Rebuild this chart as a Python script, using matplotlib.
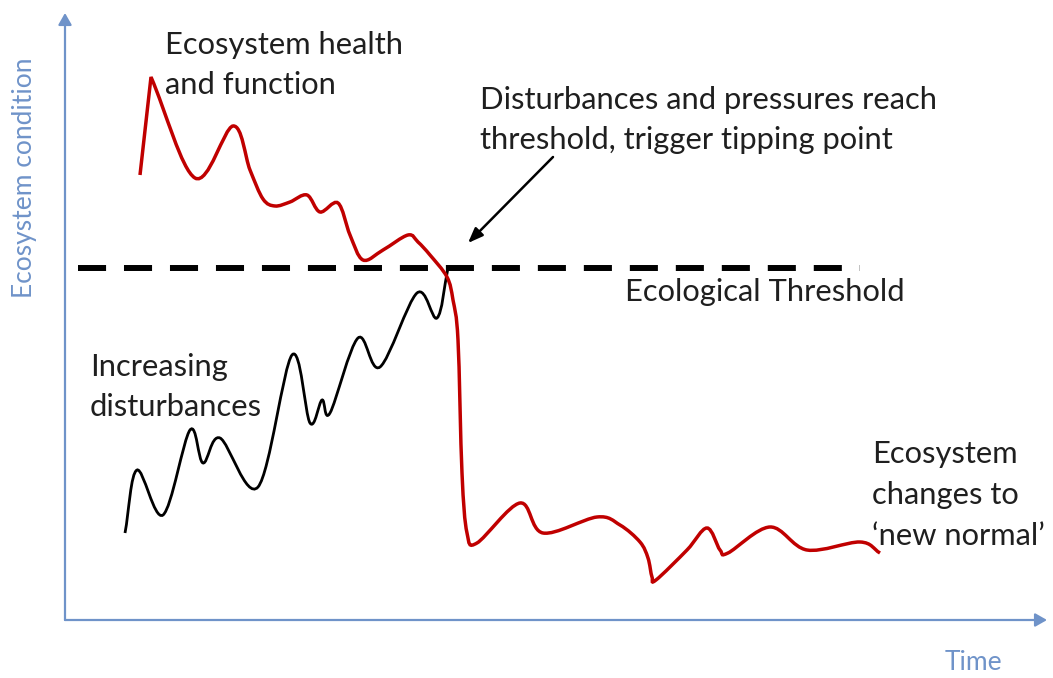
import numpy as np
import matplotlib.pyplot as plt
from matplotlib.path import Path
from matplotlib.patches import PathPatch, FancyArrowPatch

# ecosystem health curve (time, condition)
health_t = [75, 86, 130, 168, 185, 198, 210, 225, 242, 255, 273, 285, 298,
            318, 343, 353, 365, 382, 388, 393, 397, 402, 412, 455, 478, 532, 555,
            575, 583, 587, 591, 622, 642, 655, 663, 705, 742, 795, 815]
health_c = [445, 543, 442, 494, 450, 421, 414, 418, 425, 408, 417, 385, 360,
            370, 385, 378, 365, 343, 320, 280, 147, 87, 77, 117, 87, 103, 95,
            78, 62, 43, 40, 70, 92, 70, 67, 93, 70, 78, 67]

# disturbance curve
dist_t = [60, 72, 98, 125, 138, 155, 193, 227, 245, 257, 265, 293, 315, 352, 372, 383]
dist_c = [87, 150, 105, 190, 157, 182, 133, 265, 197, 220, 207, 282, 253, 327, 302, 352]

threshold = 352
threshold_t = [13, 795]

axis_blue = '#6f93c9'
red = '#c00000'
txt = '#1f1f1f'
plt.rcParams['font.family'] = ['Lato', 'DejaVu Sans']


def smooth_path(xs, ys, corners=()):
    # catmull-rom through the points, drawn as cubic bezier pieces
    p = np.column_stack([xs, ys]).astype(float)
    n = len(p)
    verts = [p[0]]
    codes = [Path.MOVETO]
    for i in range(n - 1):
        a = p[max(i - 1, 0)]
        b = p[i]
        c = p[i + 1]
        d = p[min(i + 2, n - 1)]
        if i in corners or i == 0:
            c1 = b + (c - b) / 3
        else:
            c1 = b + (c - a) / 6
        if (i + 1) in corners or i + 1 == n - 1:
            c2 = c - (c - b) / 3
        else:
            c2 = c - (d - b) / 6
        verts += [c1, c2, c]
        codes += [Path.CURVE4] * 3
    return Path(verts, codes)


fig = plt.figure(figsize=(10.53, 6.78), dpi=100)
ax = fig.add_axes([0, 0, 1, 1])
ax.set_xlim(-65, 988)
ax.set_ylim(-58, 620)
ax.axis('off')

# axes arrows
ax.add_patch(FancyArrowPatch((0, 0), (0, 607), arrowstyle='-|>,head_length=7,head_width=4',
                             color=axis_blue, lw=1.6, shrinkA=0, shrinkB=0))
ax.add_patch(FancyArrowPatch((0, 0), (982, 0), arrowstyle='-|>,head_length=7,head_width=4',
                             color=axis_blue, lw=1.6, shrinkA=0, shrinkB=0))

# threshold line
ax.plot(threshold_t, [threshold, threshold], color='black', lw=4.3,
        dashes=(4.7, 3.0), solid_capstyle='butt', dash_capstyle='butt')

ax.add_patch(PathPatch(smooth_path(dist_t, dist_c), fill=False, ec='black', lw=2.0))
ax.add_patch(PathPatch(smooth_path(health_t, health_c, corners=(1,)), fill=False,
                       ec=red, lw=2.5, joinstyle='miter'))

# tipping point arrow
ax.annotate('', xy=(403, 377), xytext=(488, 463),
            arrowprops=dict(arrowstyle='-|>,head_length=0.9,head_width=0.35',
                            color='black', lw=1.8, shrinkA=0, shrinkB=0))

fs = 22.2
ls = 1.55
ax.text(100, 555, 'Ecosystem health\nand function', fontsize=fs, color=txt,
        ha='left', va='center', linespacing=ls)
ax.text(415, 500, 'Disturbances and pressures reach\nthreshold, trigger tipping point',
        fontsize=fs, color=txt, ha='left', va='center', linespacing=ls)
ax.text(560, 328, 'Ecological Threshold', fontsize=fs, color=txt, ha='left', va='center')
ax.text(25, 233, 'Increasing\ndisturbances', fontsize=fs, color=txt,
        ha='left', va='center', linespacing=ls)
ax.text(807, 125, 'Ecosystem\nchanges to\n\u2018new normal\u2019', fontsize=fs, color=txt,
        ha='left', va='center', linespacing=ls)

ax.text(908, -43, 'Time', fontsize=19, color=axis_blue, ha='center', va='center')
ax.text(-40, 442, 'Ecosystem condition', fontsize=19, color=axis_blue,
        ha='center', va='center', rotation=90)

fig.savefig('out.png', dpi=100)
